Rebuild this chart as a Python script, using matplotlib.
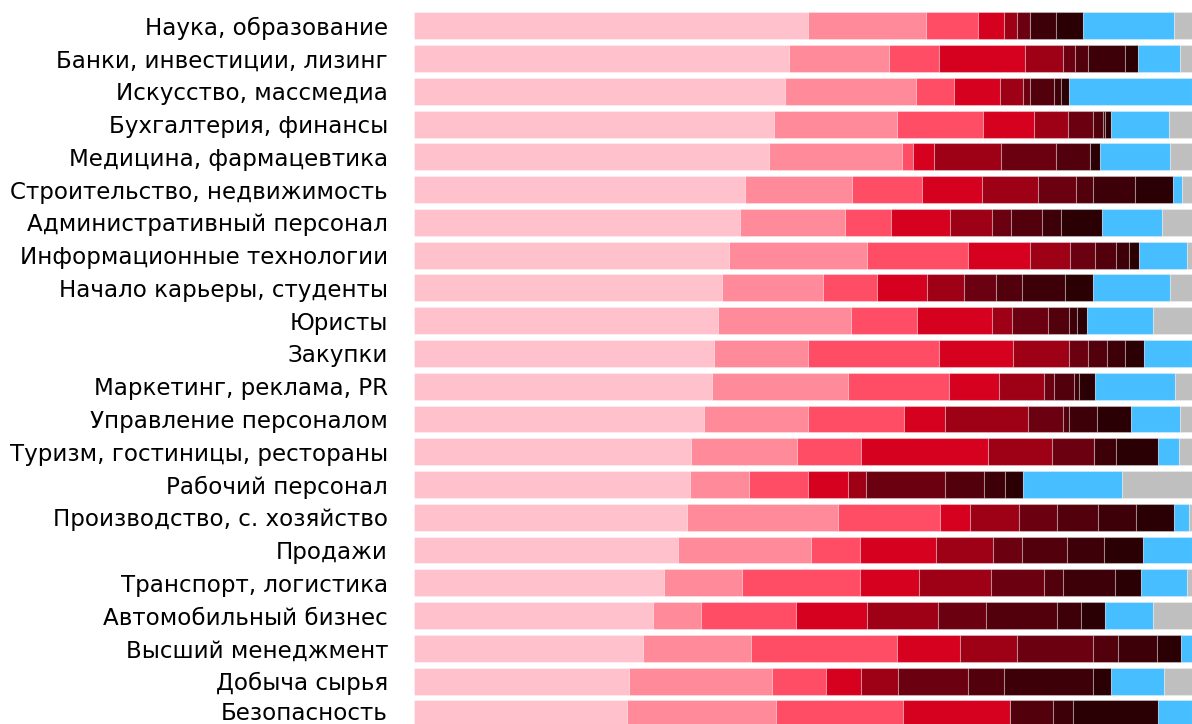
import matplotlib
matplotlib.use("Agg")
import matplotlib.pyplot as plt
import matplotlib.transforms as mtransforms
import numpy as np

categories = [
    "Наука, образование",
    "Банки, инвестиции, лизинг",
    "Искусство, массмедиа",
    "Бухгалтерия, финансы",
    "Медицина, фармацевтика",
    "Строительство, недвижимость",
    "Административный персонал",
    "Информационные технологии",
    "Начало карьеры, студенты",
    "Юристы",
    "Закупки",
    "Маркетинг, реклама, PR",
    "Управление персоналом",
    "Туризм, гостиницы, рестораны",
    "Рабочий персонал",
    "Производство, с. хозяйство",
    "Продажи",
    "Транспорт, логистика",
    "Автомобильный бизнес",
    "Высший менеджмент",
    "Добыча сырья",
    "Безопасность",
]

# shares per category, %
seg1 = [50.57, 48.17, 47.61, 46.20, 45.59, 42.51, 41.87, 40.49, 39.55, 39.04, 38.52,
        38.26, 37.27, 35.56, 35.43, 35.01, 33.92, 32.05, 30.68, 29.39, 27.59, 27.33]
seg2 = [15.18, 12.86, 16.89, 15.86, 17.11, 13.76, 13.54, 17.71, 12.95, 17.06, 12.05,
        17.50, 13.30, 13.70, 7.55, 19.46, 17.08, 10.11, 6.17, 13.89, 18.39, 19.16]
seg3 = [6.71, 6.39, 4.89, 11.06, 1.42, 9.00, 5.84, 12.99, 6.95, 8.49, 16.85,
        12.99, 12.43, 8.13, 7.59, 13.12, 6.26, 15.10, 12.22, 18.74, 6.91, 16.33]
seg4 = [3.32, 11.14, 5.95, 6.60, 2.74, 7.76, 7.66, 8.01, 6.50, 9.72, 9.60,
        6.39, 5.27, 16.37, 5.15, 3.90, 9.85, 7.59, 9.13, 8.10, 4.58, 13.73]
seg5 = [1.75, 4.89, 2.96, 4.37, 8.61, 7.12, 5.40, 5.15, 4.76, 2.50, 7.20,
        5.86, 10.68, 8.27, 2.39, 6.30, 7.33, 9.34, 9.16, 7.33, 4.68, 0]
seg6 = [1.67, 1.54, 0.90, 3.20, 7.08, 4.89, 2.45, 3.21, 4.04, 4.71, 2.44,
        1.29, 4.42, 5.40, 10.16, 4.89, 3.73, 6.74, 6.18, 9.86, 9.08, 0]
seg7 = [0, 1.67, 2.99, 1.20, 4.29, 2.26, 3.91, 2.70, 3.35, 2.62, 2.45,
        2.57, 0.85, 0, 5.02, 5.27, 5.71, 2.44, 9.14, 3.17, 4.63, 5.53]
seg8 = [3.35, 4.76, 1.00, 0.38, 0, 5.41, 2.52, 1.68, 5.60, 1.11, 2.31,
        0.64, 3.60, 2.76, 2.62, 4.89, 4.76, 6.77, 3.08, 4.98, 11.44, 2.65]
seg9 = [3.37, 1.63, 0.99, 0.71, 1.37, 4.81, 5.27, 1.24, 3.57, 1.25, 2.37,
        1.99, 4.33, 5.44, 2.39, 4.84, 5.09, 3.34, 3.05, 3.13, 2.28, 10.89]
seg_blue = [11.80, 5.47, 15.82, 7.50, 8.90, 1.19, 7.72, 6.18, 9.90, 8.48, 6.21,
            10.32, 6.31, 2.70, 12.66, 1.93, 6.27, 5.88, 6.17, 1.41, 6.82, 4.37]
seg_gray = [2.28, 1.48, 0, 2.92, 2.89, 1.29, 3.82, 0.64, 2.83, 5.02, 0,
            2.19, 1.54, 1.67, 9.04, 0.39, 0, 0.64, 5.02, 0, 3.60, 0]

series = [seg1, seg2, seg3, seg4, seg5, seg6, seg7, seg8, seg9, seg_blue, seg_gray]
colors = ["#FFC2CC", "#FF8A99", "#FF4D66", "#D6001F", "#9E0016", "#6B0010",
          "#52000C", "#3D0008", "#2B0005", "#47BEFF", "#BFBFBF"]

fig = plt.figure(figsize=(11.92, 7.24), dpi=100)
ax = fig.add_axes([0.3477, 0.0, 0.6523, 1.0])

y = np.arange(len(categories))
left = np.zeros(len(categories))
for vals, col in zip(series, colors):
    vals = np.array(vals)
    ax.barh(y, vals, left=left, height=0.82, color=col,
            edgecolor=(1, 1, 1, 0.3), linewidth=0.8)
    left += vals

ax.set_xlim(0, 100)
ax.set_ylim(21.31, -0.787)
ax.set_yticks(y)
ax.set_yticklabels(categories, fontsize=16.6, family="DejaVu Sans", color="#000000")
ax.tick_params(axis="y", length=0, pad=19)
ax.set_xticks([])
for s in ax.spines.values():
    s.set_visible(False)

# lift the last label a touch so it stays inside the picture
last = ax.get_yticklabels()[-1]
last.set_transform(last.get_transform() +
                   mtransforms.ScaledTranslation(0, 3 / 100, fig.dpi_scale_trans))

fig.savefig("out.png", dpi=100)
